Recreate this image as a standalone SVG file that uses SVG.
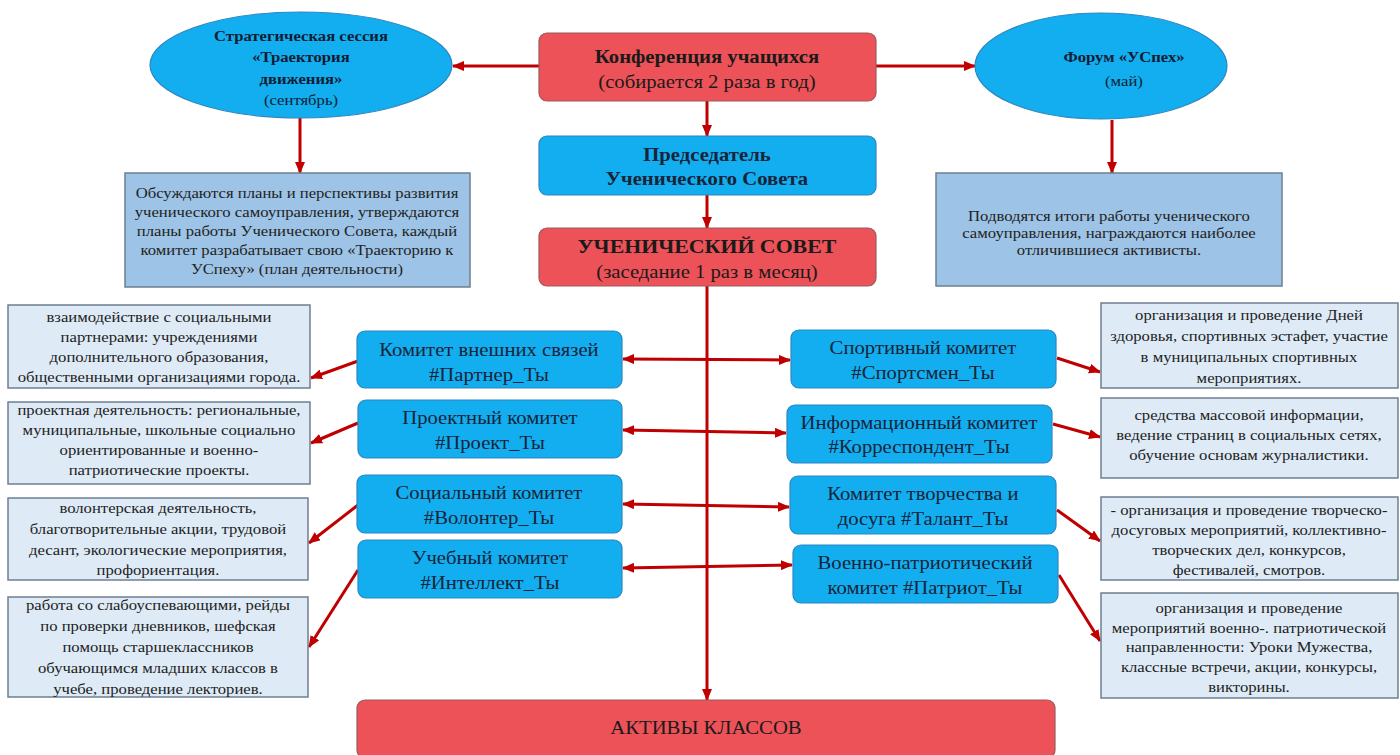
<svg xmlns="http://www.w3.org/2000/svg" width="1400" height="755" viewBox="0 0 1400 755">
<defs>
<marker id="ah" viewBox="0 0 12 10" refX="11" refY="5" markerWidth="12" markerHeight="10" markerUnits="userSpaceOnUse" orient="auto-start-reverse">
<path d="M0,0 L12,5 L0,10 Z" fill="#C00000"/>
</marker>
</defs>
<style>
text{font-family:"Liberation Serif","Times New Roman",serif;text-anchor:middle;transform-box:fill-box;transform-origin:center;transform:scaleX(1.15)}
.red{fill:#EC5258;stroke:#9a5a5e;stroke-width:1.2}
.blue{fill:#12AEEF;stroke:#2f86c0;stroke-width:1.2}
.note{fill:#9DC3E6;stroke:#6d7f90;stroke-width:1.5}
.desc{fill:#DEEBF7;stroke:#6d7f90;stroke-width:1.5}
.c{stroke:#C00000;stroke-width:3;fill:none}
.t1{font-size:18px;fill:#1a1a1a}
.b{font-weight:bold}
.ct{font-size:18px;fill:#17243a}
.dt{font-size:14.5px;fill:#222}
.et{font-size:14.5px;fill:#101c33}
</style>
<g id="connectors">
<line class="c" x1="540" y1="66" x2="453" y2="66" marker-end="url(#ah)"/>
<line class="c" x1="876" y1="66" x2="975" y2="66" marker-end="url(#ah)"/>
<line class="c" x1="300" y1="118" x2="300" y2="173" marker-end="url(#ah)"/>
<line class="c" x1="1112" y1="120" x2="1112" y2="173" marker-end="url(#ah)"/>
<line class="c" x1="707" y1="101" x2="707" y2="136" marker-end="url(#ah)"/>
<line class="c" x1="707" y1="195" x2="707" y2="228" marker-end="url(#ah)"/>
<line class="c" x1="707" y1="286" x2="707" y2="700" marker-end="url(#ah)"/>
<line class="c" x1="623" y1="359" x2="790" y2="360" marker-start="url(#ah)" marker-end="url(#ah)"/>
<line class="c" x1="623" y1="430" x2="786" y2="433" marker-start="url(#ah)" marker-end="url(#ah)"/>
<line class="c" x1="623" y1="504" x2="789" y2="507" marker-start="url(#ah)" marker-end="url(#ah)"/>
<line class="c" x1="623" y1="568" x2="792" y2="565" marker-start="url(#ah)" marker-end="url(#ah)"/>
<line class="c" x1="358" y1="361" x2="311" y2="378" marker-end="url(#ah)"/>
<line class="c" x1="358" y1="423" x2="311" y2="443" marker-end="url(#ah)"/>
<line class="c" x1="358" y1="505" x2="309" y2="543" marker-end="url(#ah)"/>
<line class="c" x1="358" y1="570" x2="309" y2="647" marker-end="url(#ah)"/>
<line class="c" x1="1057" y1="358" x2="1100" y2="372" marker-end="url(#ah)"/>
<line class="c" x1="1053" y1="424" x2="1100" y2="437" marker-end="url(#ah)"/>
<line class="c" x1="1057" y1="510" x2="1100" y2="541" marker-end="url(#ah)"/>
<line class="c" x1="1059" y1="575" x2="1100" y2="641" marker-end="url(#ah)"/>
</g>
<g id="strategy">
<ellipse class="blue" cx="301" cy="65" rx="151" ry="53"/>
<text class="et b" x="301" y="41">Стратегическая сессия</text>
<text class="et b" x="301" y="62">«Траектория</text>
<text class="et b" x="301" y="84">движения»</text>
<text class="et" x="301" y="105">(сентябрь)</text>
</g>
<g id="conference">
<rect class="red" x="539" y="33" width="337" height="68" rx="8"/>
<text class="t1 b" x="707" y="63">Конференция учащихся</text>
<text class="t1" x="707" y="88">(собирается 2 раза в год)</text>
</g>
<g id="forum">
<ellipse class="blue" cx="1101" cy="66" rx="126" ry="53"/>
<text class="et b" x="1124" y="62">Форум «УСпех»</text>
<text class="et" x="1124" y="86">(май)</text>
</g>
<g id="strategy-note">
<rect class="note" x="125" y="173" width="345" height="114"/>
<text class="dt" x="297" y="198">Обсуждаются планы и перспективы развития</text>
<text class="dt" x="297" y="217">ученического самоуправления, утверждаются</text>
<text class="dt" x="297" y="236">планы работы Ученического Совета, каждый</text>
<text class="dt" x="297" y="255">комитет разрабатывает свою «Траекторию к</text>
<text class="dt" x="297" y="274">УСпеху» (план деятельности)</text>
</g>
<g id="forum-note">
<rect class="note" x="936" y="173" width="346" height="113"/>
<text class="dt" x="1109" y="221">Подводятся итоги работы ученического</text>
<text class="dt" x="1109" y="238">самоуправления, награждаются наиболее</text>
<text class="dt" x="1109" y="255">отличившиеся активисты.</text>
</g>
<g id="chairman">
<rect class="blue" x="539" y="136" width="337" height="59" rx="8"/>
<text class="ct b" x="707" y="161">Председатель</text>
<text class="ct b" x="707" y="185">Ученического Совета</text>
</g>
<g id="council">
<rect class="red" x="539" y="228" width="337" height="58" rx="8"/>
<text class="t1 b" x="707" y="253" style="font-size:19px">УЧЕНИЧЕСКИЙ СОВЕТ</text>
<text class="t1" x="707" y="278">(заседание 1 раз в месяц)</text>
</g>
<g id="com-external">
<rect class="blue" x="357" y="331" width="265" height="57" rx="8"/>
<text class="ct" x="489" y="356">Комитет внешних связей</text>
<text class="ct" x="489" y="381">#Партнер_Ты</text>
</g>
<g id="com-project">
<rect class="blue" x="358" y="400" width="264" height="58" rx="8"/>
<text class="ct" x="490" y="424">Проектный комитет</text>
<text class="ct" x="490" y="449">#Проект_Ты</text>
</g>
<g id="com-social">
<rect class="blue" x="357" y="475" width="265" height="58" rx="8"/>
<text class="ct" x="489" y="499">Социальный комитет</text>
<text class="ct" x="489" y="524">#Волонтер_Ты</text>
</g>
<g id="com-study">
<rect class="blue" x="358" y="540" width="264" height="58" rx="8"/>
<text class="ct" x="490" y="564">Учебный комитет</text>
<text class="ct" x="490" y="589">#Интеллект_Ты</text>
</g>
<g id="com-sport">
<rect class="blue" x="791" y="330" width="265" height="58" rx="8"/>
<text class="ct" x="923" y="354">Спортивный комитет</text>
<text class="ct" x="923" y="379">#Спортсмен_Ты</text>
</g>
<g id="com-info">
<rect class="blue" x="787" y="405" width="265" height="58" rx="8"/>
<text class="ct" x="919" y="429">Информационный  комитет</text>
<text class="ct" x="919" y="453">#Корреспондент_Ты</text>
</g>
<g id="com-creative">
<rect class="blue" x="790" y="476" width="266" height="58" rx="8"/>
<text class="ct" x="923" y="500">Комитет творчества и</text>
<text class="ct" x="923" y="525">досуга #Талант_Ты</text>
</g>
<g id="com-patriot">
<rect class="blue" x="793" y="545" width="265" height="58" rx="8"/>
<text class="ct" x="925" y="569">Военно-патриотический</text>
<text class="ct" x="925" y="594">комитет #Патриот_Ты</text>
</g>
<g id="desc-external">
<rect class="desc" x="8" y="305" width="302" height="83"/>
<text class="dt" x="159" y="322">взаимодействие с социальными</text>
<text class="dt" x="159" y="342">партнерами: учреждениями</text>
<text class="dt" x="159" y="362">дополнительного  образования,</text>
<text class="dt" x="159" y="382">общественными организациями  города.</text>
</g>
<g id="desc-project">
<rect class="desc" x="8" y="402" width="302" height="82"/>
<text class="dt" x="159" y="415">проектная деятельность: региональные,</text>
<text class="dt" x="159" y="435">муниципальные,  школьные социально</text>
<text class="dt" x="159" y="455">ориентированные  и военно-</text>
<text class="dt" x="159" y="475">патриотические проекты.</text>
</g>
<g id="desc-social">
<rect class="desc" x="8" y="498" width="300" height="82"/>
<text class="dt" x="158" y="513">волонтерская деятельность,</text>
<text class="dt" x="158" y="534">благотворительные акции,  трудовой</text>
<text class="dt" x="158" y="555">десант, экологические мероприятия,</text>
<text class="dt" x="158" y="575">профориентация.</text>
</g>
<g id="desc-study">
<rect class="desc" x="8" y="597" width="300" height="100"/>
<text class="dt" x="158" y="610">работа со слабоуспевающими, рейды</text>
<text class="dt" x="158" y="631">по проверки дневников, шефская</text>
<text class="dt" x="158" y="652">помощь старшеклассников</text>
<text class="dt" x="158" y="673">обучающимся младших классов в</text>
<text class="dt" x="158" y="694">учебе, проведение лекториев.</text>
</g>
<g id="desc-sport">
<rect class="desc" x="1101" y="303" width="297" height="85"/>
<text class="dt" x="1249" y="320">организация и проведение Дней</text>
<text class="dt" x="1249" y="341">здоровья, спортивных  эстафет, участие</text>
<text class="dt" x="1249" y="362">в муниципальных  спортивных</text>
<text class="dt" x="1249" y="383">мероприятиях.</text>
</g>
<g id="desc-info">
<rect class="desc" x="1101" y="398" width="297" height="80"/>
<text class="dt" x="1249" y="420">средства массовой информации,</text>
<text class="dt" x="1249" y="440">ведение страниц в социальных сетях,</text>
<text class="dt" x="1249" y="460">обучение основам журналистики.</text>
</g>
<g id="desc-creative">
<rect class="desc" x="1101" y="497" width="297" height="83"/>
<text class="dt" x="1249" y="515">- организация  и проведение  творческо-</text>
<text class="dt" x="1249" y="535">досуговых мероприятий, коллективно-</text>
<text class="dt" x="1249" y="555">творческих дел, конкурсов,</text>
<text class="dt" x="1249" y="575">фестивалей, смотров.</text>
</g>
<g id="desc-patriot">
<rect class="desc" x="1101" y="593" width="297" height="105"/>
<text class="dt" x="1249" y="613">организация  и проведение</text>
<text class="dt" x="1249" y="633">мероприятий  военно-. патриотической</text>
<text class="dt" x="1249" y="652">направленности:  Уроки Мужества,</text>
<text class="dt" x="1249" y="672">классные встречи, акции, конкурсы,</text>
<text class="dt" x="1249" y="692">викторины.</text>
</g>
<g id="class-assets">
<rect class="red" x="357" y="700" width="698" height="58" rx="8"/>
<text class="t1" x="706" y="734">АКТИВЫ КЛАССОВ</text>
</g>
</svg>
